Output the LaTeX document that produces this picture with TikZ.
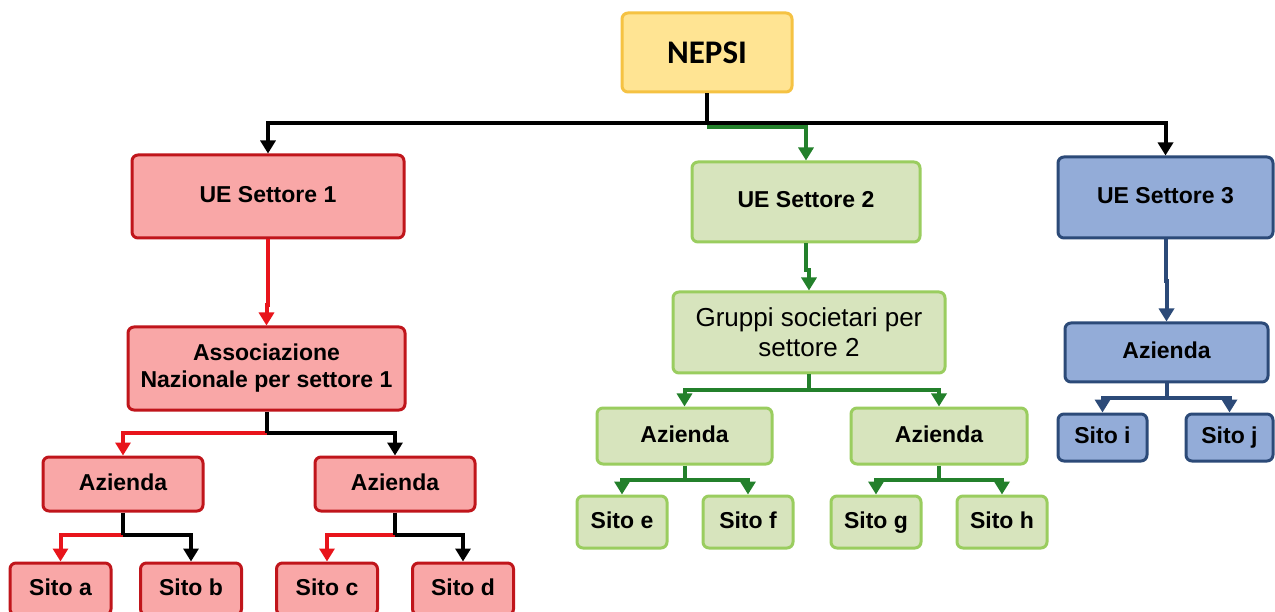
\documentclass[tikz,border=0pt]{standalone}
\usepackage{fontspec}
\setmainfont{Liberation Sans}
\newfontfamily\calib{Carlito}
\usetikzlibrary{arrows.meta}
\definecolor{yfill}{HTML}{FFE493}
\definecolor{yline}{HTML}{F5C243}
\definecolor{rfill}{HTML}{F9A7A7}
\definecolor{rline}{HTML}{C0151B}
\definecolor{rarrow}{HTML}{E8141B}
\definecolor{gfill}{HTML}{D7E4BD}
\definecolor{gline}{HTML}{9ACD5F}
\definecolor{garrow}{HTML}{23802B}
\definecolor{bfill}{HTML}{93ACD8}
\definecolor{bline}{HTML}{2C4A78}
\begin{document}
\begin{tikzpicture}[x=1pt,y=-1pt,
  box/.style={draw, rounded corners=6pt, line width=3pt, align=center, inner sep=0pt,
    font=\bfseries\fontsize{23}{27}\selectfont},
  oneline/.style={text height=16.5pt, text depth=4.5pt},
  ybox/.style={box, fill=yfill, draw=yline},
  rbox/.style={box, fill=rfill, draw=rline},
  gbox/.style={box, fill=gfill, draw=gline},
  bbox/.style={box, fill=bfill, draw=bline},
  con/.style={line width=4pt},
  tip/.style={-{Triangle[length=13pt,width=15pt]}},
  kline/.style={con, draw=black},
  rl/.style={con, draw=rarrow},
  gl/.style={con, draw=garrow},
  bl/.style={con, draw=bline},
]
\useasboundingbox[fill=white] (0,0) rectangle (1275,612);

% nodes
\node[ybox, minimum width=170, minimum height=79, font=\calib\bfseries\fontsize{33}{37}\selectfont] (nepsi) at (707,52.5) {NEPSI};

\node[rbox, oneline, minimum width=272, minimum height=83] (ue1) at (268,196.5) {UE Settore 1};
\node[gbox, oneline, minimum width=228, minimum height=80] (ue2) at (806,202) {UE Settore 2};
\node[bbox, oneline, minimum width=215, minimum height=81] (ue3) at (1165.5,197.5) {UE Settore 3};

\node[rbox, minimum width=277, minimum height=83] (assoc) at (266.5,368.5) {Associazione\\Nazionale per settore 1};
\node[rbox, oneline, minimum width=160, minimum height=54] (az1) at (123,484) {Azienda};
\node[rbox, oneline, minimum width=160, minimum height=54] (az2) at (395,484) {Azienda};
\node[rbox, oneline, minimum width=101, minimum height=52] (sa) at (60.5,589) {Sito a};
\node[rbox, oneline, minimum width=101, minimum height=52] (sb) at (191,589) {Sito b};
\node[rbox, oneline, minimum width=101, minimum height=52] (sc) at (327,589) {Sito c};
\node[rbox, oneline, minimum width=101, minimum height=52] (sd) at (463,589) {Sito d};

\node[gbox, minimum width=272, minimum height=81, font=\fontsize{26}{30}\selectfont] (grp) at (809,332.5) {Gruppi societari per\\settore 2};
\node[gbox, oneline, minimum width=175, minimum height=56] (azg1) at (684.5,436) {Azienda};
\node[gbox, oneline, minimum width=176, minimum height=56] (azg2) at (939,436) {Azienda};
\node[gbox, oneline, minimum width=90, minimum height=52] (se) at (622,522) {Sito e};
\node[gbox, oneline, minimum width=90, minimum height=52] (sf) at (748,522) {Sito f};
\node[gbox, oneline, minimum width=90, minimum height=52] (sg) at (876,522) {Sito g};
\node[gbox, oneline, minimum width=90, minimum height=52] (sh) at (1002,522) {Sito h};

\node[bbox, oneline, minimum width=203, minimum height=59] (azb) at (1166.5,352.5) {Azienda};
\node[bbox, oneline, minimum width=89, minimum height=47] (si) at (1102.5,437.5) {Sito i};
\node[bbox, oneline, minimum width=87, minimum height=47] (sj) at (1229.5,437.5) {Sito j};

% junction coordinates
\coordinate (j0) at (707,123);
\coordinate (j0g) at (707,127);
\coordinate (j1) at (266.5,433);
\coordinate (j2) at (123,535);
\coordinate (j3) at (395,535);
\coordinate (jg) at (809,390);
\coordinate (jg1) at (684.5,480);
\coordinate (jg2) at (939,480);
\coordinate (jb) at (1166.5,398);

% top level
\draw[gl, tip] (j0g) -| (ue2.north);
\draw[kline] (nepsi.south) -- (j0);
\draw[kline, tip] (j0) -| (ue1.north);
\draw[kline, tip] (j0) -| (ue3.north);

% sector 1
\draw[rl, tip] (ue1.south) |- ([yshift=20pt]assoc.north) -- (assoc.north);
\draw[rl, tip] (j1) -| (az1.north);
\draw[kline, tip] (j1) -| (az2.north);
\draw[kline] (assoc.south) -- (j1);
\draw[rl, tip] (j2) -| (sa.north);
\draw[kline, tip] (j2) -| (sb.north);
\draw[kline] (az1.south) -- (j2);
\draw[rl, tip] (j3) -| (sc.north);
\draw[kline, tip] (j3) -| (sd.north);
\draw[kline] (az2.south) -- (j3);

% sector 2
\draw[gl, tip] (ue2.south) |- ([yshift=20pt]grp.north) -- (grp.north);
\draw[gl] (grp.south) -- (jg);
\draw[gl, tip] (jg) -| (azg1.north);
\draw[gl, tip] (jg) -| (azg2.north);
\draw[gl] (azg1.south) -- (jg1);
\draw[gl, tip] (jg1) -| (se.north);
\draw[gl, tip] (jg1) -| (sf.north);
\draw[gl] (azg2.south) -- (jg2);
\draw[gl, tip] (jg2) -| (sg.north);
\draw[gl, tip] (jg2) -| (sh.north);

% sector 3
\draw[bl, tip] (ue3.south) |- ([yshift=40pt]azb.north) -- (azb.north);
\draw[bl] (azb.south) -- (jb);
\draw[bl, tip] (jb) -| (si.north);
\draw[bl, tip] (jb) -| (sj.north);
\end{tikzpicture}
\end{document}
